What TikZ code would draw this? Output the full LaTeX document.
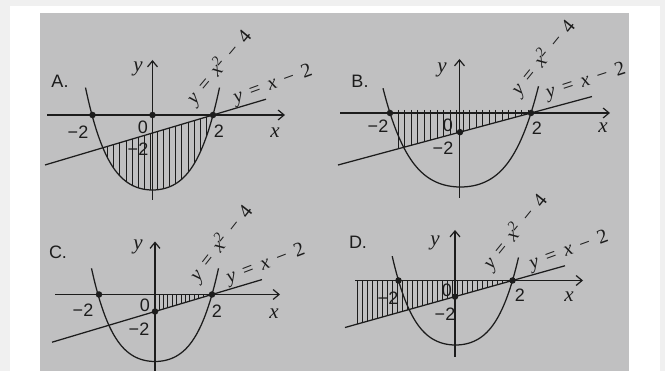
\documentclass[tikz,border=0pt]{standalone}
\usepackage{fontspec}
\setmainfont{Liberation Serif}
\newfontfamily\sansf{Liberation Sans}
\usetikzlibrary{arrows.meta}
\definecolor{photo}{RGB}{192,192,193}
\definecolor{outerc}{RGB}{240,240,240}
\definecolor{ink}{RGB}{28,28,28}
\newcommand\SetP[5]{\def\Pcx{#1}\def\Poy{#2}\def\Pw{#3}\def\Pd{#4}\def\Pm{#5}}
\newcommand\ParY[1]{\Poy+\Pd*(1-0.5*(((#1)-\Pcx)/\Pw)^2-0.5*(((#1)-\Pcx)/\Pw)^4)}
\newcommand\LinY[1]{\Poy+\Pm*(\Pcx+\Pw-(#1))/\Pw}
\newcommand\EqA{\textit{y}\hspace{0.4em}=\hspace{0.4em}\textit{x}\textsuperscript{2}\hspace{0.4em}−\hspace{0.4em}4}
\newcommand\EqB{\textit{y}\hspace{0.4em}=\hspace{0.4em}\textit{x}\hspace{0.4em}−\hspace{0.4em}2}
\tikzset{
  curve/.style={ink, line width=1.25pt},
  axisline/.style={ink, line width=1.25pt, -{Straight Barb[length=6pt,width=10pt,line width=1.2pt]}},
  hatch/.style={ink, line width=0.85pt},
  dotm/.style={circle, fill=ink, inner sep=0pt, minimum size=6.5pt},
  lab/.style={font=\fontsize{18}{20}\selectfont\sansf, text=ink, inner sep=0pt},
  var/.style={font=\fontsize{21}{22}\selectfont, text=ink, inner sep=0pt},
  eqn/.style={font=\fontsize{20}{22}\selectfont, text=ink, inner sep=0pt},
}
\begin{document}
\begin{tikzpicture}[x=1pt,y=-1pt]
\useasboundingbox (0,0) rectangle (665,371);
\fill[outerc] (0,0) rectangle (665,371);
\fill[white] (10,6) rectangle (660,371);
\fill[photo] (40,13) rectangle (629,371);

% ---------------- Panel A ----------------
\SetP{152.5}{115}{60.5}{75}{18}
\begin{scope}
  \clip plot[domain=92:213,samples=60,variable=\t] (\t,{\ParY{\t}}) -- (213,60) -- (92,60) -- cycle;
  \clip (40,{\LinY{40}}) -- (213,115) -- (213,210) -- (40,210) -- cycle;
  \foreach \x in {107.5,113.7,...,213} \draw[hatch] (\x,100) -- (\x,200);
\end{scope}
\draw[axisline] (47,115) -- (285,115);
\draw[axisline] (152.5,200) -- (152.5,60);
\draw[curve] plot[domain=85.5:219.5,samples=90,variable=\t] (\t,{\ParY{\t}});
\draw[curve] (45,{\LinY{45}}) -- (266,{\LinY{266}});
\node[dotm] (Ad1) at (92.5,115) {};
\node[dotm] (Ad2) at (152.5,115) {};
\node[dotm] (Ad3) at (213,115) {};
\node[lab] (Alab) at (60,81) {A.};
\node[var] (Ay) at (138,69) {\textit{y}};
\node[var] (Ax) at (275,133) {\textit{x}};
\node[lab] (Axm) at (78,132) {−2};
\node[lab] (A0) at (143,127) {0};
\node[lab] (Ax2) at (219,131) {2};
\node[lab] (Aym) at (138,149) {−2};
\node[eqn, rotate=50] (Aeq1) at (219,67) {\EqA};
\node[eqn, rotate=20] (Aeq2) at (273,85) {\EqB};

% ---------------- Panel B ----------------
\SetP{460.5}{113}{70.5}{74}{19}
\foreach \x in {398,404.5,...,528} \draw[hatch] (\x,\Poy-3) -- (\x,{\LinY{\x}});
\draw[axisline] (340,113) -- (610,113);
\draw[axisline] (459.5,198) -- (459.5,59);
\draw[curve] plot[domain=383:538.5,samples=90,variable=\t] (\t,{\ParY{\t}});
\draw[curve] (338,{\LinY{338}}) -- (592,{\LinY{592}});
\node[dotm] (Bd1) at (390,113) {};
\node[dotm] (Bd2) at (460,{\LinY{460}}) {};
\node[dotm] (Bd3) at (531,113) {};
\node[lab] (Blab) at (360,81) {B.};
\node[var] (By) at (442,70) {\textit{y}};
\node[var] (Bx) at (603,128) {\textit{x}};
\node[lab] (Bxm) at (378,126) {−2};
\node[lab] (B0) at (448,125) {0};
\node[lab] (Bx2) at (537,128) {2};
\node[lab] (Bym) at (443,148) {−2};
\node[eqn, rotate=51] (Beq1) at (543,58) {\EqA};
\node[eqn, rotate=18] (Beq2) at (586,82) {\EqB};

% ---------------- Panel C ----------------
\SetP{155}{294.5}{57}{67}{17}
\foreach \x in {159,163.4,...,210} \draw[hatch] (\x,\Poy) -- (\x,{\LinY{\x}});
\draw[axisline] (55,294.5) -- (280,294.5);
\draw[axisline] (155,371) -- (155,241.5);
\draw[curve] plot[domain=91.5:218.5,samples=90,variable=\t] (\t,{\ParY{\t}});
\draw[curve] (52,{\LinY{52}}) -- (262,{\LinY{262}});
\node[dotm] (Cd1) at (99,294.5) {};
\node[dotm] (Cd2) at (155,{\LinY{155}}) {};
\node[dotm] (Cd3) at (212,294.5) {};
\node[lab] (Clab) at (58,252) {C.};
\node[var] (Cy) at (138,247) {\textit{y}};
\node[var] (Cx) at (274,314) {\textit{x}};
\node[lab] (Cxm) at (83,310) {−2};
\node[lab] (C0) at (145,305) {0};
\node[lab] (Cx2) at (217,311) {2};
\node[lab] (Cym) at (139,329) {−2};
\node[eqn, rotate=52] (Ceq1) at (221,243) {\EqA};
\node[eqn, rotate=21] (Ceq2) at (266,265) {\EqB};

% ---------------- Panel D ----------------
\SetP{455.5}{280.5}{57}{64.5}{16}
\foreach \x in {357,362,...,510} \draw[hatch] (\x,\Poy) -- (\x,{\LinY{\x}});
\draw[axisline] (355,280.5) -- (583,280.5);
\draw[axisline] (455,357) -- (455,230);
\draw[curve] plot[domain=392.2:518.5,samples=90,variable=\t] (\t,{\ParY{\t}});
\draw[curve] (345,{\LinY{345}}) -- (565,{\LinY{565}});
\node[dotm] (Dd1) at (398.5,280.5) {};
\node[dotm] (Dd2) at (455,{\LinY{455}}) {};
\node[dotm] (Dd3) at (512.5,280.5) {};
\node[lab] (Dlab) at (358,242) {D.};
\node[var] (Dy) at (435,243) {\textit{y}};
\node[var] (Dx) at (569,297) {\textit{x}};
\node[lab] (Dxm) at (388,298) {−2};
\node[lab] (D0) at (447,290) {0};
\node[lab] (Dx2) at (520,295) {2};
\node[lab] (Dym) at (445,314) {−2};
\node[eqn, rotate=51] (Deq1) at (515,232) {\EqA};
\node[eqn, rotate=20] (Deq2) at (569,251) {\EqB};
\end{tikzpicture}
\end{document}
